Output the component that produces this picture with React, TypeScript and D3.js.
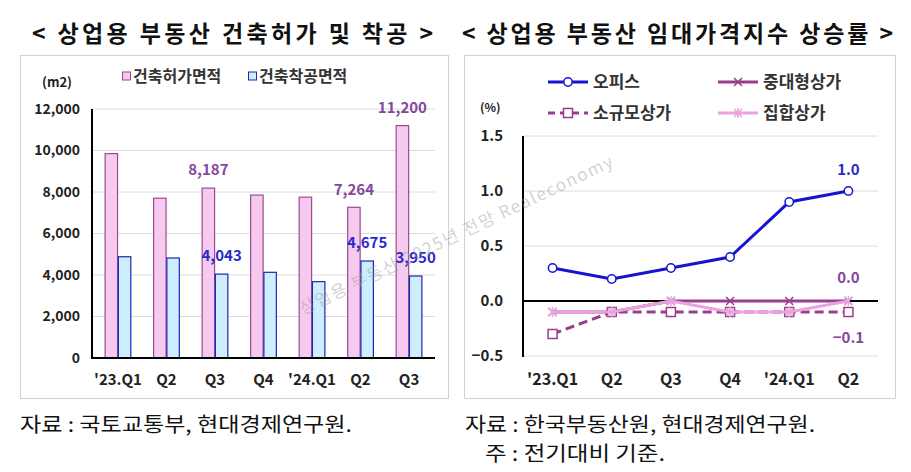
import React from 'react';
import * as d3 from 'd3';

// ---------- Data ----------
const barCategories = ["'23.Q1", 'Q2', 'Q3', 'Q4', "'24.Q1", 'Q2', 'Q3'];
const permitArea = [9850, 7700, 8187, 7850, 7750, 7264, 11200];
const startArea = [4880, 4820, 4043, 4130, 3680, 4675, 3950];
const permitLabelIdx = [2, 5, 6];
const startLabelIdx = [2, 5, 6];
const barYTicks = [0, 2000, 4000, 6000, 8000, 10000, 12000];
const barLegend = ['건축허가면적', '건축착공면적'];

const lineCategories = ["'23.Q1", 'Q2', 'Q3', 'Q4', "'24.Q1", 'Q2'];
const office = [0.3, 0.2, 0.3, 0.4, 0.9, 1.0];
const midLarge = [-0.1, -0.1, 0.0, 0.0, 0.0, 0.0];
const smallShop = [-0.3, -0.1, -0.1, -0.1, -0.1, -0.1];
const aggregate = [-0.1, -0.1, 0.0, -0.1, -0.1, 0.0];
const lineNames = ['오피스', '중대형상가', '소규모상가', '집합상가'];
const lineYTicks = [-0.5, 0, 0.5, 1.0, 1.5];

const FONT = "'Noto Sans CJK KR', 'Noto Sans', sans-serif";

const PINK_FILL = '#F6C9EE';
const PINK_STROKE = '#9A4B92';
const BLUE_FILL = '#CDEEFC';
const BLUE_STROKE = '#2323B4';
const OFFICE = '#1414D2';
const MAGENTA = '#993D8F';
const LIGHTPINK = '#E9A3DD';
const LABEL_PURPLE = '#85479C';
const LABEL_BLUE = '#2A2ACB';
const GRID = '#DCDCDC';

function Marker({ type, x, y, color }: { type: string; x: number; y: number; color: string }) {
  if (type === 'circle') return <circle cx={x} cy={y} r={4.2} fill="#fff" stroke={color} strokeWidth={1.5} />;
  if (type === 'square') return <rect x={x - 4.5} y={y - 4.5} width={9} height={9} fill="#fff" stroke={color} strokeWidth={1.5} />;
  if (type === 'x')
    return (
      <path d={`M${x - 4},${y - 4}L${x + 4},${y + 4}M${x - 4},${y + 4}L${x + 4},${y - 4}`} stroke={color} strokeWidth={1.5} />
    );
  // star
  return (
    <path
      d={`M${x - 4},${y - 4}L${x + 4},${y + 4}M${x - 4},${y + 4}L${x + 4},${y - 4}M${x},${y - 5}L${x},${y + 5}`}
      stroke={color}
      strokeWidth={1.5}
    />
  );
}

function BarChart() {
  const left = 92, right = 435, top = 109, bottom = 358;
  const x0 = d3.scaleBand<number>().domain(d3.range(barCategories.length)).range([left, right]).paddingInner(0.47).paddingOuter(0.27);
  const x1 = d3.scaleBand<string>().domain(['p', 's']).range([0, x0.bandwidth()]).paddingInner(0.06);
  const y = d3.scaleLinear().domain([0, 12000]).range([bottom, top]);
  const fmt = d3.format(',');
  return (
    <g fontFamily={FONT}>
      <rect x={20.5} y={55.5} width={428} height={343} fill="#fff" stroke="#D0D0D0" />
      {barYTicks.map((t) => (
        <g key={t}>
          {t > 0 && <line x1={left} x2={right} y1={y(t)} y2={y(t)} stroke={GRID} strokeWidth={1} />}
          <text x={80} y={y(t)} dy="0.35em" textAnchor="end" fontSize={14} fontWeight="bold" fill="#222">
            {fmt(t)}
          </text>
        </g>
      ))}
      <text x={42} y={82} dy="0.35em" fontSize={13} fontWeight="bold" fill="#222">(m2)</text>
      {/* legend */}
      {barLegend.map((name, i) => {
        const lx = i === 0 ? 122 : 248;
        return (
          <g key={name}>
            <rect x={lx + 0.5} y={72} width={8} height={8} fill={i === 0 ? PINK_FILL : BLUE_FILL} stroke={i === 0 ? PINK_STROKE : BLUE_STROKE} />
            <text x={lx + 11} y={76} dy="0.35em" fontSize={16} fontWeight="bold" fill="#333">{name}</text>
          </g>
        );
      })}
      {barCategories.map((c, i) => (
        <g key={i}>
          <rect x={x0(i)! + x1('p')!} y={y(permitArea[i])} width={x1.bandwidth()} height={bottom - y(permitArea[i])} fill={PINK_FILL} stroke={PINK_STROKE} strokeWidth={1.2} />
          <rect x={x0(i)! + x1('s')!} y={y(startArea[i])} width={x1.bandwidth()} height={bottom - y(startArea[i])} fill={BLUE_FILL} stroke={BLUE_STROKE} strokeWidth={1.2} />
          <text x={x0(i)! + x0.bandwidth() / 2} y={380} dy="0.35em" textAnchor="middle" fontSize={15} fontWeight="bold" fill="#222">{c}</text>
        </g>
      ))}
      {permitLabelIdx.map((i) => (
        <text key={'p' + i} x={x0(i)! + x1('p')! + x1.bandwidth() / 2} y={y(permitArea[i]) - 18} dy="0.35em" textAnchor="middle" fontSize={15} fontWeight="bold" fill={LABEL_PURPLE}>
          {fmt(permitArea[i])}
        </text>
      ))}
      {startLabelIdx.map((i) => (
        <text key={'s' + i} x={x0(i)! + x1('s')! + x1.bandwidth() / 2} y={y(startArea[i]) - 18} dy="0.35em" textAnchor="middle" fontSize={15} fontWeight="bold" fill={LABEL_BLUE}>
          {fmt(startArea[i])}
        </text>
      ))}
      <line x1={left} x2={left} y1={top} y2={bottom + 1} stroke="#000" strokeWidth={2} />
      <line x1={left - 1} x2={right} y1={bottom} y2={bottom} stroke="#000" strokeWidth={2} />
    </g>
  );
}

function LineChart() {
  const left = 523, right = 878, top = 136, bottom = 356;
  const x = d3.scalePoint<number>().domain(d3.range(lineCategories.length)).range([left, right]).padding(0.5);
  const y = d3.scaleLinear().domain([-0.5, 1.5]).range([bottom, top]);
  const line = d3.line<number>().x((_, i) => x(i)!).y((d) => y(d));
  const series = [
    { name: lineNames[0], data: office, color: OFFICE, marker: 'circle', dash: undefined as string | undefined },
    { name: lineNames[1], data: midLarge, color: MAGENTA, marker: 'x', dash: undefined },
    { name: lineNames[2], data: smallShop, color: MAGENTA, marker: 'square', dash: '9,5' },
    { name: lineNames[3], data: aggregate, color: LIGHTPINK, marker: 'star', dash: undefined },
  ];
  const drawOrder = [1, 2, 3, 0];
  const legendPos = [
    [548, 82],
    [718, 82],
    [548, 113],
    [718, 113],
  ];
  const last = lineCategories.length - 1;
  return (
    <g fontFamily={FONT}>
      <rect x={464.5} y={55.5} width={431} height={343} fill="#fff" stroke="#D0D0D0" />
      {lineYTicks.map((t) => (
        <g key={t}>
          {t !== 0 && <line x1={left} x2={right} y1={y(t)} y2={y(t)} stroke={GRID} strokeWidth={1} />}
          <text x={503} y={y(t)} dy="0.35em" textAnchor="end" fontSize={15} fontWeight="bold" fill="#222">
            {d3.format('.1f')(t)}
          </text>
        </g>
      ))}
      <text x={480} y={108} dy="0.35em" fontSize={12} fontWeight="bold" fill="#222">(%)</text>
      {lineCategories.map((c, i) => (
        <text key={i} x={x(i)!} y={379} dy="0.35em" textAnchor="middle" fontSize={16} fontWeight="bold" fill="#222">{c}</text>
      ))}
      <line x1={left} x2={left} y1={top} y2={bottom + 1} stroke="#000" strokeWidth={2} />
      <line x1={left} x2={right} y1={y(0)} y2={y(0)} stroke="#000" strokeWidth={2} />
      {drawOrder.map((k) => {
        const s = series[k];
        return (
          <g key={s.name}>
            <path d={line(s.data)!} fill="none" stroke={s.color} strokeWidth={3} strokeDasharray={s.dash} />
            {s.data.map((v, i) => (
              <Marker key={i} type={s.marker} x={x(i)!} y={y(v)} color={s.color} />
            ))}
          </g>
        );
      })}
      {series.map((s, k) => {
        const [lx, ly] = legendPos[k];
        return (
          <g key={'lg' + k}>
            <line x1={lx} x2={lx + 40} y1={ly} y2={ly} stroke={s.color} strokeWidth={3} strokeDasharray={s.dash ? '7,5' : undefined} />
            <Marker type={s.marker} x={lx + 20} y={ly} color={s.color} />
            <text x={lx + 45} y={ly} dy="0.35em" fontSize={17} fontWeight="bold" fill="#333">{s.name}</text>
          </g>
        );
      })}
      <text x={x(last)!} y={y(office[last]) - 21} dy="0.35em" textAnchor="middle" fontSize={15} fontWeight="bold" fill={LABEL_BLUE}>
        {d3.format('.1f')(office[last])}
      </text>
      <text x={x(last)!} y={y(midLarge[last]) - 23} dy="0.35em" textAnchor="middle" fontSize={15} fontWeight="bold" fill={LABEL_PURPLE}>
        {d3.format('.1f')(midLarge[last])}
      </text>
      <text x={x(last)!} y={y(smallShop[last]) + 26} dy="0.35em" textAnchor="middle" fontSize={15} fontWeight="bold" fill={LABEL_PURPLE}>
        {d3.format('.1f')(smallShop[last])}
      </text>
    </g>
  );
}

export default function App() {
  return (
    <svg width={911} height={472} style={{ position: 'absolute', left: 0, top: 0, background: '#fff' }}>
      <rect width={911} height={472} fill="#fff" />
      <text x={32} y={42} fontFamily={FONT} fontSize={23} fontWeight="bold" fill="#111" textLength={401} lengthAdjust="spacing">
        {'< 상업용 부동산 건축허가 및 착공 >'}
      </text>
      <text x={462} y={42} fontFamily={FONT} fontSize={23} fontWeight="bold" fill="#111" textLength={431} lengthAdjust="spacing">
        {'< 상업용 부동산 임대가격지수 상승률 >'}
      </text>
      <BarChart />
      <LineChart />
      <text
        x={456}
        y={235}
        transform="rotate(-25.6 456 235)"
        textAnchor="middle"
        dy="0.35em"
        fontFamily={FONT}
        fontSize={17}
        fill="#9a9a9a"
        fillOpacity={0.45}
        textLength={345}
        lengthAdjust="spacing"
      >
        상업용 부동산 2025년 전망 Realeconomy
      </text>
      <g fontFamily={FONT} fontSize={20} fill="#111">
        <text x={20} y={432} textLength={332} lengthAdjust="spacingAndGlyphs">자료 : 국토교통부, 현대경제연구원.</text>
        <text x={465} y={432} textLength={350} lengthAdjust="spacingAndGlyphs">자료 : 한국부동산원, 현대경제연구원.</text>
        <text x={485} y={461} textLength={180} lengthAdjust="spacingAndGlyphs">주 : 전기대비 기준.</text>
      </g>
    </svg>
  );
}
